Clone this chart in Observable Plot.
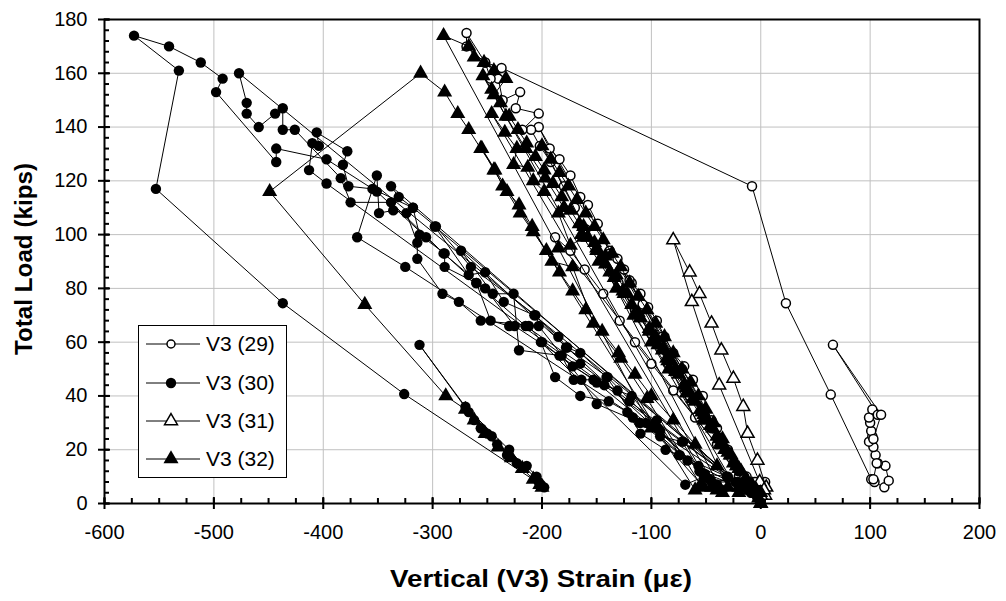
<!DOCTYPE html>
<html><head><meta charset="utf-8">
<script src="https://cdn.jsdelivr.net/npm/d3@7"></script>
<script src="https://cdn.jsdelivr.net/npm/@observablehq/plot@0.6"></script>
<style>
body{margin:0;background:#fff;}
#chart{position:relative;width:1006px;height:601px;}
svg{font-family:"Liberation Sans",Arial,sans-serif;}
</style></head><body><div id="chart"></div>
<script>
// ---- data: [strain (με), total load (kips)] ----
const s29 = [
[0,1],[3,4],[4,8],[0,6],[-6,8],
[-13,10],[-19,12],[-27,17],[-35,23],[-45,31],[-53,40],[-62,46],[-70,51],[-80,56],[-88,62],[-95,68],[-103,73],[-110,78],[-118,82],[-125,87],[-131,91],[-138,94],
[-20,10],[2,5],
[-15,10],[-30,20],[-40,28],[-55,38],[-72,50],[-90,62],[-108,74],[-120,83],[-138,93],[-149,104],[-158,111],[-165,114],[-174,122],[-184,128],[-193,132],[-203,140],
[-12,7],[3,6],
[-8,6],[-20,12],[-40,22],[-60,32],[-80,42],[-100,52],[-115,60],[-129,68],[-144,78],[-161,87],[-174,94],[-188,99],
[-10,6],[4,5],
[-5,8],[-25,15],[-45,28],[-65,40],[-85,52],[-100,63],[-115,72],[-130,82],[-145,91],[-160,102],[-170,110],[-180,118],[-192,127],[-202,133],[-210,139],[-218,139],[-203,145],[-224,147],[-220,153],[-236,150],[-240,158],[-247,158],[-252,164],[-269,170],[-269,175],[-252,164],[-237,162],
[-8,118],[23,74.5],[64,40.5],[101,9],[104,8],[113,6],[117,8.5],[114,14],[107,15],[105,18],[103,21],[99,23],[102,25],[101,27],[100,30],[99,32],[102,35],[107,33],[66,59],[110,33],[103,24],[106,15],[103,9]
];
const s30 = [
[0,1],[-4,3],[-9,4],[-15,6],[-23,8],
[-45,8],[-57,14],[-75,18],[-87,20],[-110,26],[-122,34],[-139,38],[-165,40],[-188,47],[-201,60],
[-69,7],
[-52,10],[-72,23],[-92,25],[-117,32],[-131,42],[-153,46],[-171,46],[-182,55],[-221,57],[-226,78],[-245,78],[-274,94],
[-40,7],
[-31,10],[-74,18],[-95,31],[-111,30],[-141,47],[-165,56],[-177,58],[-185,62],[-207,70],[-235,75],[-252,86],[-267,85],[-298,103],
[-21,8],
[-47,9],[-92,27],[-118,40],[-143,44],[-172,51],[-200,60],[-212,66],[-230,66],[-247,68],[-260,82],[-289,88],[-289,93],[-312,100],[-318,110],[-331,114],[-338,118],
[-30,10],
[-51,11],[-110,30],[-150,37],[-164,46],[-203,66],[-256,68],[-276,75],[-291,78],[-314,91],[-314,97],[-324,108],[-336,109],[-349,108],[-351,122],[-369,99],[-325,88],
[-12,5],
[-56,12],[-94,28],[-140,47],[-178,58],[-206,70],[-265,88],[-297,103],[-318,110],[-355,117],[-377,118],[-382,126],[-378,131],[-406,138],[-404,133],[-410,134],[-413,124],[-397,119],
[-8,4],
[-67,16],[-105,30],[-150,45],[-184,55],[-225,66],[-252,80],[-290,93],[-338,112],[-375,112],[-384,121],[-426,139],[-437,139],[-437,147],[-444,145],[-459,140],[-470,145],[-470,149],[-477,160],
[-3,2],
[-71,23],[-120,38],[-165,52],[-215,66],[-260,82],[-306,99],[-351,116],[-397,128],[-443,132],[-443,127],[-498,153],[-492,158],[-512,164],[-541,170],[-573,174],
[-532,161],[-553,117],[-437,74.5],[-326,40.7],[-201,7],[-198,6],[-205,10],[-214,14],[-223,15],[-232,18],[-241,22],[-246,25],[-250,26],[-256,28],[-262,31],[-267,34],[-312,59],[-270,36],[-230,20],[-203,8]
];
const s31 = [
[0,0],[4,3],[5,6],[-3,16],[-12,26],[-16,36],[-25,46.5],[-36,57],[-45,67],[-56,78],[-65,86],[-80,98],[-63,75],[-38,44],[-1,8],[3,5],[0,3]
];
const s32 = [
[0,0],[-2,2],[0,4],[-4,5],
[-12,8],[-20,13],[-28,18],[-36,23],[-44,28],[-52,33],[-60,38],[-68,43],[-75,48],[-82,53],[-89,58],[-96,62],[-30,6],
[-6,5],[-14,9],[-22,14],[-30,19],[-38,24],[-46,29],[-54,34],[-62,39],[-70,44],[-78,49],[-86,54],[-94,59],[-102,64],[-110,69],[-118,74],[-126,79],[-134,84],[-142,89],[-150,94],[-158,99],[-166,104],[-174,109],[-182,114],[-190,119],[-198,124],[-206,129],[-214,134],[-222,139],[-230,144],[-238,149],[-246,154],[-254,159],[-40,5],
[-10,6],[-25,15],[-40,25],[-55,35],[-66,42],[-78,50],[-90,57],[-102,65],[-112,71],[-122,78],[-132,85],[-142,92],[-152,97],[-162,103],[-20,4],
[-10,7],[-18,12],[-27,18],[-35,24],[-43,30],[-50,35],[-57,40],[-64,45],[-72,50],[-80,56],[-88,62],[-96,67],[-104,72],[-112,77],[-120,82],[-128,88],[-136,93],[-144,98],[-152,103],[-160,108],[-168,113],[-176,118],[-184,123],[-192,128],[-200,133],[-35,4],
[-20,6],[-40,14],[-60,22],[-80,31],[-100,40],[-115,48],[-130,56],[-145,64],[-160,72],[-172,79],[-184,86],[-196,94],[-208,101],[-220,108],[-232,116],[-244,124],[-255,132],[-60,5],
[-15,8],[-33,20],[-50,31],[-70,44],[-85,53],[-98,61],[-110,69],[-125,78],[-138,86],[-150,95],[-162,99],[-174,96],[-185,108],[-198,116],[-208,120],[-213,125],[-226,126],[-223,132],[-234,138],[-246,145],[-45,6],
[-8,7],[-22,14],[-37,22],[-52,31],[-68,41],[-84,50],[-100,60],[-116,70],[-132,80],[-148,90],[-164,100],[-180,110],[-197,121],[-215,132],[-233,144],[-244,152],[-233,158],[-244,161],[-253,164],[-262,166],[-267,170],[-290,174],
[-185,95],[-100,28],[-52,6],
[-55,7],[-104,39],[-128,54],[-153,67],[-172,88],[-191,90],[-209,103],[-221,111],[-236,118],[-243,124],[-256,132],[-267,139],[-277,145],[-289,153],[-311,160],
[-449,116],[-362,74],[-288,40],[-270,35],[-262,31],[-252,26],[-240,21],[-228,17],[-218,13],[-208,9],[-202,7],[-200,6]
];
const seriesNames = ["V3 (29)", "V3 (30)", "V3 (31)", "V3 (32)"];
const xTicks = [-600,-500,-400,-300,-200,-100,0,100,200];
const yTicks = [0,20,40,60,80,100,120,140,160,180];
const xMinor = [-600,-575,-550,-525,-500,-475,-450,-425,-400,-375,-350,-325,-300,-275,-250,-225,-200,-175,-150,-125,-100,-75,-50,-25,0,25,50,75,100,125,150,175,200];
const yMinor = [0,4,8,12,16,20,24,28,32,36,40,44,48,52,56,60,64,68,72,76,80,84,88,92,96,100,104,108,112,116,120,124,128,132,136,140,144,148,152,156,160,164,168,172,176,180];
const xTitle = "Vertical (V3) Strain (με)";
const yTitle = "Total Load (kips)";

// ---- chart ----
const W = 1006, H = 601;
const ML = 104, MR = 27, MT = 19, MB = 98;
const FONT = '"Liberation Sans", Arial, sans-serif';
const rows = (arr, name) => arr.map(([x, y]) => ({x, y, name}));
const d29 = rows(s29, seriesNames[0]);
const d30 = rows(s30, seriesNames[1]);
const d31 = rows(s31, seriesNames[2]);
const d32 = rows(s32, seriesNames[3]);

const lineOpt = {x: "x", y: "y", stroke: "black", strokeWidth: 1};
const styles = [
  {symbol: "circle", r: 4.5, fill: "white", stroke: "black", strokeWidth: 1.5},
  {symbol: "circle", r: 5.2, fill: "black", stroke: "none"},
  {symbol: "triangle", r: 4.8, fill: "white", stroke: "black", strokeWidth: 1.5},
  {symbol: "triangle", r: 5.6, fill: "black", stroke: "none"}
];

const plot = Plot.plot({
  width: W, height: H,
  marginLeft: ML, marginRight: MR, marginTop: MT, marginBottom: MB,
  style: {fontFamily: FONT, fontSize: "20px", color: "black", background: "white", overflow: "visible"},
  x: {domain: [-600, 200]},
  y: {domain: [0, 180]},
  marks: [
    Plot.gridX(xTicks, {stroke: "#c0c0c0", strokeOpacity: 1, strokeWidth: 1}),
    Plot.gridY(yTicks, {stroke: "#c0c0c0", strokeOpacity: 1, strokeWidth: 1}),
    Plot.line(d29, lineOpt),
    Plot.dot(d29, {x: "x", y: "y", ...styles[0]}),
    Plot.line(d30, lineOpt),
    Plot.dot(d30, {x: "x", y: "y", ...styles[1]}),
    Plot.line(d31, lineOpt),
    Plot.dot(d31, {x: "x", y: "y", ...styles[2]}),
    Plot.line(d32, lineOpt),
    Plot.dot(d32, {x: "x", y: "y", ...styles[3]}),
    Plot.frame({stroke: "black", strokeWidth: 2}),
    Plot.axisX(xTicks, {tickSize: 6, tickPadding: 15, label: null, fontSize: 20, strokeWidth: 2, tickFormat: d => String(d)}),
    Plot.axisX(xTicks, {tickSize: -6, fill: "none", label: null, strokeWidth: 2}),
    Plot.axisX(xMinor, {tickSize: -5, fill: "none", label: null, strokeWidth: 2}),
    Plot.axisY(yTicks, {tickSize: 6, tickPadding: 11, label: null, fontSize: 20, strokeWidth: 2, tickFormat: d => String(d)}),
    Plot.axisY(yTicks, {tickSize: -6, fill: "none", label: null, strokeWidth: 2}),
    Plot.axisY(yMinor, {tickSize: -5, fill: "none", label: null, strokeWidth: 2})
  ]
});
document.getElementById("chart").appendChild(plot);

const svg = d3.select(plot);
// axis titles
svg.append("text")
  .attr("x", 541).attr("y", 587)
  .attr("text-anchor", "middle")
  .attr("font-family", FONT).attr("font-weight", "bold").attr("font-size", 23)
  .attr("textLength", 302).attr("lengthAdjust", "spacingAndGlyphs")
  .attr("fill", "black")
  .text(xTitle);
svg.append("text")
  .attr("transform", "translate(32,259) rotate(-90)")
  .attr("text-anchor", "middle")
  .attr("font-family", FONT).attr("font-weight", "bold").attr("font-size", 23)
  .attr("textLength", 192).attr("lengthAdjust", "spacingAndGlyphs")
  .attr("fill", "black")
  .text(yTitle);

// legend
const lg = svg.append("g");
lg.append("rect").attr("x", 138.5).attr("y", 325.5).attr("width", 148).attr("height", 152)
  .attr("fill", "white").attr("stroke", "black").attr("stroke-width", 1);
const rowY = [344, 383, 421, 459];
const symType = {circle: d3.symbolCircle, triangle: d3.symbolTriangle};
seriesNames.forEach((name, i) => {
  const y = rowY[i];
  const st = styles[i];
  lg.append("line").attr("x1", 146).attr("x2", 200).attr("y1", y).attr("y2", y)
    .attr("stroke", "black").attr("stroke-width", 1);
  const r = i === 0 ? 4 : st.r;
  lg.append("path")
    .attr("transform", `translate(171,${y})`)
    .attr("d", d3.symbol(symType[st.symbol], Math.PI * r * r)())
    .attr("fill", st.fill).attr("stroke", st.stroke)
    .attr("stroke-width", st.strokeWidth || 0);
  lg.append("text").attr("x", 206).attr("y", y).attr("dy", "0.35em")
    .attr("text-anchor", "start")
    .attr("font-family", FONT).attr("font-size", 21).attr("fill", "black")
    .text(name);
});
</script>
</body></html>
